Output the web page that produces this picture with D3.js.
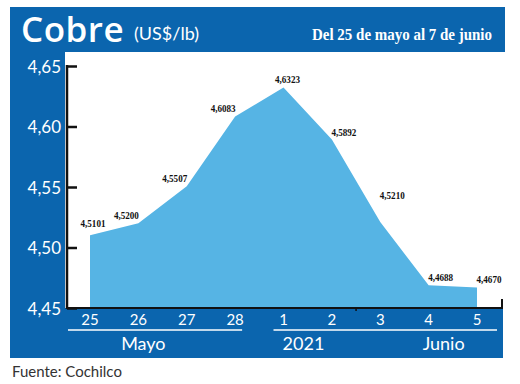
<!DOCTYPE html>
<html>
<head>
<meta charset="utf-8">
<script src="https://cdn.jsdelivr.net/npm/d3@7"></script>
<style>
  body { margin: 0; background: #fff; }
  svg { display: block; }
</style>
</head>
<body>
<div id="viz"></div>
<script>
// data
var days = ["25", "26", "27", "28", "1", "2", "3", "4", "5"];
var prices = [4.5101, 4.5200, 4.5507, 4.6083, 4.6323, 4.5892, 4.5210, 4.4688, 4.4670];
var yTicks = [4.45, 4.50, 4.55, 4.60, 4.65];
var groups = ["Mayo", "2021", "Junio"];

var W = 520, H = 384;
var blue = "#0b65ae", sky = "#56b4e4";

var es = d3.formatLocale({ decimal: ",", thousands: ".", grouping: [3], currency: ["", ""] });
var fmt2 = es.format(".2f"), fmt4 = es.format(".4f");

var svg = d3.select("#viz").append("svg")
	.attr("width", W)
	.attr("height", H);

var x = d3.scalePoint().domain(days).range([90, 477]);
var y = d3.scaleLinear().domain([4.45, 4.65]).range([308, 66]);

// blue frame: header, left column, bottom band
svg.append("rect").attr("x", 10).attr("y", 7).attr("width", 495).attr("height", 45).attr("fill", blue);
svg.append("rect").attr("x", 10).attr("y", 7).attr("width", 55).attr("height", 351).attr("fill", blue);
svg.append("rect").attr("x", 10).attr("y", 308).attr("width", 493).attr("height", 50).attr("fill", blue);

// titles
svg.append("text")
	.attr("x", 21).attr("y", 42)
	.attr("fill", "#fff")
	.style("font", "600 35px 'Open Sans', Lato, sans-serif")
	.style("letter-spacing", "0.5px")
	.text("Cobre");
svg.append("text")
	.attr("x", 134).attr("y", 40)
	.attr("fill", "#fff")
	.style("font", "18px Lato, 'Open Sans', sans-serif")
	.text("(US$/lb)");
svg.append("text")
	.attr("x", 312).attr("y", 40)
	.attr("fill", "#fff")
	.attr("textLength", 180)
	.attr("lengthAdjust", "spacingAndGlyphs")
	.style("font", "bold 16px 'Liberation Serif', serif")
	.text("Del 25 de mayo al 7 de junio");

// area
var area = d3.area()
	.x(function(d, i) { return x(days[i]); })
	.y0(y(4.45))
	.y1(function(d) { return y(d); });

svg.append("path")
	.datum(prices)
	.attr("d", area)
	.attr("fill", sky);

// value labels
var peak = prices.indexOf(d3.max(prices));
svg.selectAll(".val")
	.data(prices)
	.enter()
		.append("text")
			.attr("class", "val")
			.attr("x", function(d, i) {
				if (i == 0) return x(days[i]) + 3;
				if (i < peak) return x(days[i]) - 12;
				if (i == peak) return x(days[i]) + 4;
				return x(days[i]) + 12;
			})
			.attr("y", function(d, i) {
				if (i == peak + 2) return y(d) - 23;
				if (i == 0) return y(d) - 8;
				return y(d) - 4;
			})
			.attr("text-anchor", "middle")
			.attr("fill", "#111")
			.attr("textLength", 25)
			.attr("lengthAdjust", "spacingAndGlyphs")
			.style("font", "bold 11px 'Liberation Serif', serif")
			.text(function(d) { return fmt4(d); });

// y axis
var yAxis = svg.append("g")
	.attr("transform", "translate(67,0)")
	.call(d3.axisLeft(y).tickValues(yTicks).tickSize(-10).tickPadding(6).tickFormat(fmt2));
yAxis.select(".domain").remove();
yAxis.selectAll(".tick line").attr("stroke", "#111").attr("stroke-width", 2.5);
yAxis.selectAll(".tick text")
	.attr("fill", "#fff")
	.attr("dy", "0.36em")
	.style("font", "17px Lato, 'Open Sans', sans-serif");
svg.append("line")
	.attr("x1", 67).attr("x2", 67)
	.attr("y1", y(4.65) - 1).attr("y2", y(4.45) + 1)
	.attr("stroke", "#111").attr("stroke-width", 2.5);

// bottom line with end tick
var xr = x.range();
svg.append("path")
	.attr("d", "M" + 66 + "," + y(4.45) + "H" + (xr[1] + 25) + "V" + (y(4.45) - 9))
	.attr("fill", "none")
	.attr("stroke", "#111")
	.attr("stroke-width", 2);
var mid = (x("2") + x("3")) / 2;
svg.append("line")
	.attr("x1", mid).attr("x2", mid)
	.attr("y1", y(4.45)).attr("y2", y(4.45) + 3)
	.attr("stroke", "#111").attr("stroke-width", 1.5);

// x labels
svg.selectAll(".day")
	.data(days)
	.enter()
		.append("text")
			.attr("class", "day")
			.attr("x", function(d) { return x(d); })
			.attr("y", 325)
			.attr("text-anchor", "middle")
			.attr("fill", "#fff")
			.style("font", "15px Lato, 'Open Sans', sans-serif")
			.text(function(d) { return d; });

// group rules and names
svg.append("line")
	.attr("x1", x("25") - 22).attr("x2", x("28") + 7)
	.attr("y1", 330).attr("y2", 330)
	.attr("stroke", "#fff").attr("stroke-width", 1.5);
svg.append("line")
	.attr("x1", x("1") - 10).attr("x2", x("5") + 20)
	.attr("y1", 330).attr("y2", 330)
	.attr("stroke", "#fff").attr("stroke-width", 1.5);

var groupX = [x("26") + 5, x("1") + 20, x("4") + 15];
svg.selectAll(".grp")
	.data(groups)
	.enter()
		.append("text")
			.attr("class", "grp")
			.attr("x", function(d, i) { return groupX[i]; })
			.attr("y", 350)
			.attr("text-anchor", "middle")
			.attr("fill", "#fff")
			.style("font", "18px Lato, 'Open Sans', sans-serif")
			.text(function(d) { return d; });

svg.append("text")
	.attr("x", 12).attr("y", 377)
	.attr("fill", "#333")
	.style("font", "15px Lato, 'Open Sans', sans-serif")
	.text("Fuente: Cochilco");
</script>
</body>
</html>
